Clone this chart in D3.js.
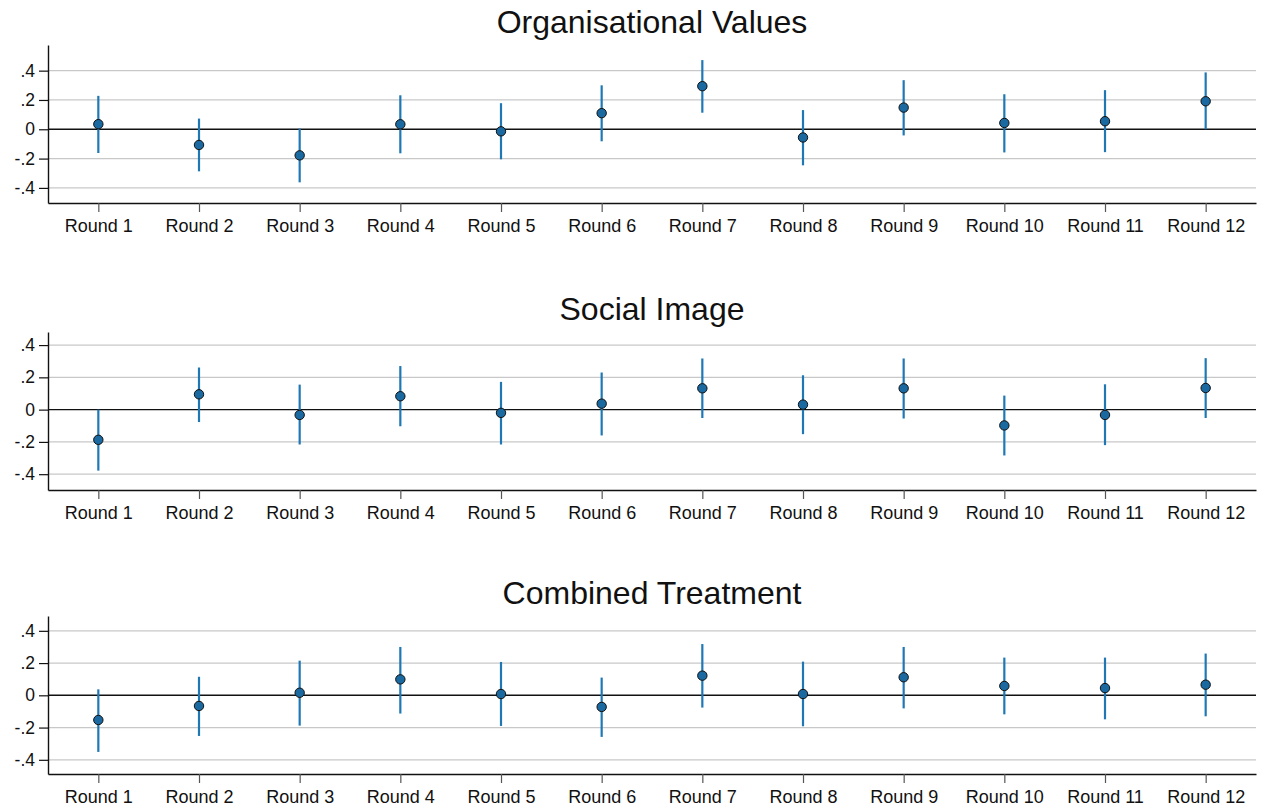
<!DOCTYPE html>
<html>
<head>
<meta charset="utf-8">
<script src="https://cdn.jsdelivr.net/npm/d3@7"></script>
<style>
  html, body { margin: 0; padding: 0; background: #fff; }
  svg { display: block; }
  text { font-family: "Liberation Sans", Arial, Helvetica, sans-serif; fill: #111; }
</style>
</head>
<body>
<svg id="chart" width="1263" height="812"></svg>
<script>
// Round labels shared by every panel
const rounds = ["Round 1","Round 2","Round 3","Round 4","Round 5","Round 6",
                "Round 7","Round 8","Round 9","Round 10","Round 11","Round 12"];

// y tick values and their labels
const yTicks = [-0.4, -0.2, 0, 0.2, 0.4];
const yTickLabels = ["-.4", "-.2", "0", ".2", ".4"];

// Panel titles
const titles = ["Organisational Values", "Social Image", "Combined Treatment"];

// Point estimates and confidence bounds, one array per panel
const orgEst   = [0.035, -0.107, -0.178, 0.034, -0.014, 0.110, 0.294, -0.056, 0.148, 0.043, 0.055, 0.191];
const orgLow   = [-0.162, -0.287, -0.362, -0.164, -0.205, -0.082, 0.113, -0.246, -0.042, -0.158, -0.156, 0.000];
const orgHigh  = [0.228, 0.073, 0.005, 0.232, 0.178, 0.300, 0.472, 0.131, 0.335, 0.239, 0.267, 0.388];

const socEst   = [-0.187, 0.095, -0.033, 0.083, -0.020, 0.037, 0.132, 0.031, 0.132, -0.098, -0.033, 0.134];
const socLow   = [-0.378, -0.077, -0.216, -0.103, -0.216, -0.160, -0.052, -0.152, -0.055, -0.284, -0.220, -0.052];
const socHigh  = [0.000, 0.261, 0.155, 0.270, 0.172, 0.230, 0.317, 0.213, 0.317, 0.087, 0.157, 0.319];

const combEst  = [-0.153, -0.066, 0.016, 0.099, 0.008, -0.072, 0.122, 0.008, 0.112, 0.058, 0.045, 0.066];
const combLow  = [-0.351, -0.252, -0.188, -0.113, -0.190, -0.258, -0.076, -0.192, -0.081, -0.118, -0.149, -0.130];
const combHigh = [0.037, 0.115, 0.215, 0.300, 0.207, 0.110, 0.318, 0.209, 0.300, 0.234, 0.234, 0.259];

// y-axis extent of each panel
const yDomains = [[-0.503, 0.575], [-0.498, 0.481], [-0.488, 0.492]];

const panels = [
  { title: titles[0], est: orgEst,  lo: orgLow,  hi: orgHigh,  dom: yDomains[0], top: 45,  bottom: 203 },
  { title: titles[1], est: socEst,  lo: socLow,  hi: socHigh,  dom: yDomains[1], top: 332, bottom: 490 },
  { title: titles[2], est: combEst, lo: combLow, hi: combHigh, dom: yDomains[2], top: 616, bottom: 774 }
];

const svg = d3.select("#chart");
const left = 48, right = 1256;
const lineColor = "#1f78b4";
const markerFill = "#1a69a0";

const x = d3.scalePoint().domain(rounds).range([left, right]).padding(0.5);

panels.forEach(p => {
  const y = d3.scaleLinear().domain(p.dom).range([p.bottom, p.top]);
  const g = svg.append("g");

  // title
  g.append("text")
    .attr("x", (left + right) / 2)
    .attr("y", p.top - 12)
    .attr("text-anchor", "middle")
    .style("font-size", "32px")
    .text(p.title);

  // horizontal grid lines
  g.append("g").selectAll("line")
    .data(yTicks.filter(v => v !== 0))
    .join("line")
    .attr("x1", left).attr("x2", right)
    .attr("y1", d => y(d)).attr("y2", d => y(d))
    .attr("stroke", "#c8c8c8").attr("stroke-width", 1.2);

  // reference line at zero
  g.append("line")
    .attr("x1", left).attr("x2", right)
    .attr("y1", y(0)).attr("y2", y(0))
    .attr("stroke", "#111").attr("stroke-width", 1.4);

  // y axis
  const yAxis = d3.axisLeft(y)
    .tickValues(yTicks)
    .tickFormat((d, i) => yTickLabels[i])
    .tickSize(9).tickPadding(4).tickSizeOuter(0);
  const ya = g.append("g").attr("transform", `translate(${left},0)`).call(yAxis);
  ya.select(".domain").attr("stroke", "#111").attr("stroke-width", 1.4);
  ya.selectAll(".tick line").attr("stroke", "#111").attr("stroke-width", 1.2);
  ya.selectAll(".tick text")
    .style("font-size", "17.5px")
    .style("font-family", '"Liberation Sans", Arial, sans-serif')
    .attr("fill", "#111");

  // x axis
  const xAxis = d3.axisBottom(x).tickSize(9).tickPadding(7).tickSizeOuter(0);
  const xa = g.append("g").attr("transform", `translate(0,${p.bottom})`).call(xAxis);
  xa.select(".domain").attr("stroke", "#111").attr("stroke-width", 1.4);
  xa.selectAll(".tick line").attr("stroke", "#555").attr("stroke-width", 1.2);
  xa.selectAll(".tick text")
    .style("font-size", "18px")
    .style("font-family", '"Liberation Sans", Arial, sans-serif')
    .attr("fill", "#111");

  // confidence intervals
  g.append("g").selectAll("line")
    .data(rounds)
    .join("line")
    .attr("x1", d => x(d)).attr("x2", d => x(d))
    .attr("y1", (d, i) => y(p.lo[i])).attr("y2", (d, i) => y(p.hi[i]))
    .attr("stroke", lineColor).attr("stroke-width", 2.2);

  // point estimates
  g.append("g").selectAll("circle")
    .data(rounds)
    .join("circle")
    .attr("cx", d => x(d))
    .attr("cy", (d, i) => y(p.est[i]))
    .attr("r", 4.7)
    .attr("fill", markerFill)
    .attr("stroke", "#111")
    .attr("stroke-width", 1);
});
</script>
</body>
</html>
